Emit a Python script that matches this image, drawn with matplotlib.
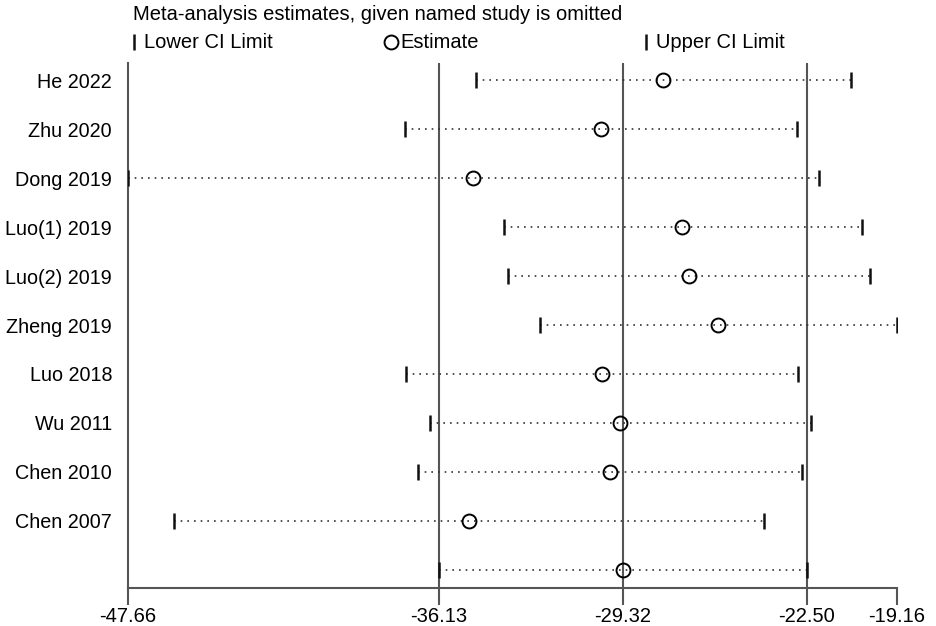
import matplotlib.pyplot as plt
from matplotlib.lines import Line2D

plt.rcParams['font.family'] = ['Liberation Sans', 'DejaVu Sans']

studies = ["He 2022", "Zhu 2020", "Dong 2019", "Luo(1) 2019", "Luo(2) 2019",
           "Zheng 2019", "Luo 2018", "Wu 2011", "Chen 2010", "Chen 2007", ""]
estimate = [-27.82, -30.13, -34.88, -27.11, -26.88, -25.78, -30.10, -29.41, -29.79, -35.01, -29.32]
lower = [-34.77, -37.40, -47.66, -33.73, -33.58, -32.38, -37.37, -36.48, -36.92, -45.96, -36.13]
upper = [-20.87, -22.85, -22.04, -20.47, -20.17, -19.16, -22.83, -22.35, -22.67, -24.08, -22.50]
xticks = [-47.66, -36.13, -29.32, -22.50, -19.16]
reflines = [-36.13, -29.32, -22.50]

fs = 14.5
fig = plt.figure(figsize=(9.36, 6.26), dpi=100)
ax = fig.add_axes([128/936, 1-588/626, (897-128)/936, (588-63)/626])

ypos = list(range(1, len(studies)+1))

for xv in reflines:
    ax.axvline(xv, color='#555555', lw=1.5, zorder=1)

for y, lo, est, hi in zip(ypos, lower, estimate, upper):
    ax.plot([lo, hi], [y, y], color='#333333', lw=1.2, linestyle=(0, (1, 3)), zorder=2)
ax.plot(lower, ypos, linestyle='none', marker='|', ms=11.5, mew=1.8, color='#111111', zorder=3)
ax.plot(upper, ypos, linestyle='none', marker='|', ms=11.5, mew=1.8, color='#111111', zorder=3)
ax.plot(estimate, ypos, linestyle='none', marker='o', ms=10, mfc='none', mec='black', mew=1.4, zorder=4)

ax.set_xlim(-47.66, -19.16)
ax.set_ylim(11.37, 0.65)
ax.set_xticks(xticks)
ax.set_xticklabels(["%.2f" % v for v in xticks], fontsize=fs)
ax.set_yticks(ypos)
ax.set_yticklabels(studies, fontsize=14.2)
ax.tick_params(axis='y', length=0, pad=11.5)
ax.tick_params(axis='x', length=12, width=1.5, color='#555555', pad=2)
ax.spines['top'].set_visible(False)
ax.spines['right'].set_visible(False)
for s in ['left', 'bottom']:
    ax.spines[s].set_color('#555555')
    ax.spines[s].set_linewidth(1.5)

# legend text above the plot
fig.text(133/936, 1-15/626, "Meta-analysis estimates, given named study is omitted",
         fontsize=fs, va='center', ha='left')
fig.add_artist(Line2D([134/936], [1-42/626], marker='|', ms=11, mew=1.8, color='#111111'))
fig.text(144/936, 1-42/626, "Lower CI Limit", fontsize=fs, va='center', ha='left')
fig.add_artist(Line2D([391/936], [1-42/626], marker='o', ms=10, mfc='none', mec='black', mew=1.4))
fig.text(400/936, 1-42/626, "Estimate", fontsize=fs, va='center', ha='left')
fig.add_artist(Line2D([646/936], [1-42/626], marker='|', ms=11, mew=1.8, color='#111111'))
fig.text(656/936, 1-42/626, "Upper CI Limit", fontsize=fs, va='center', ha='left')

fig.savefig("out.png", dpi=100)
